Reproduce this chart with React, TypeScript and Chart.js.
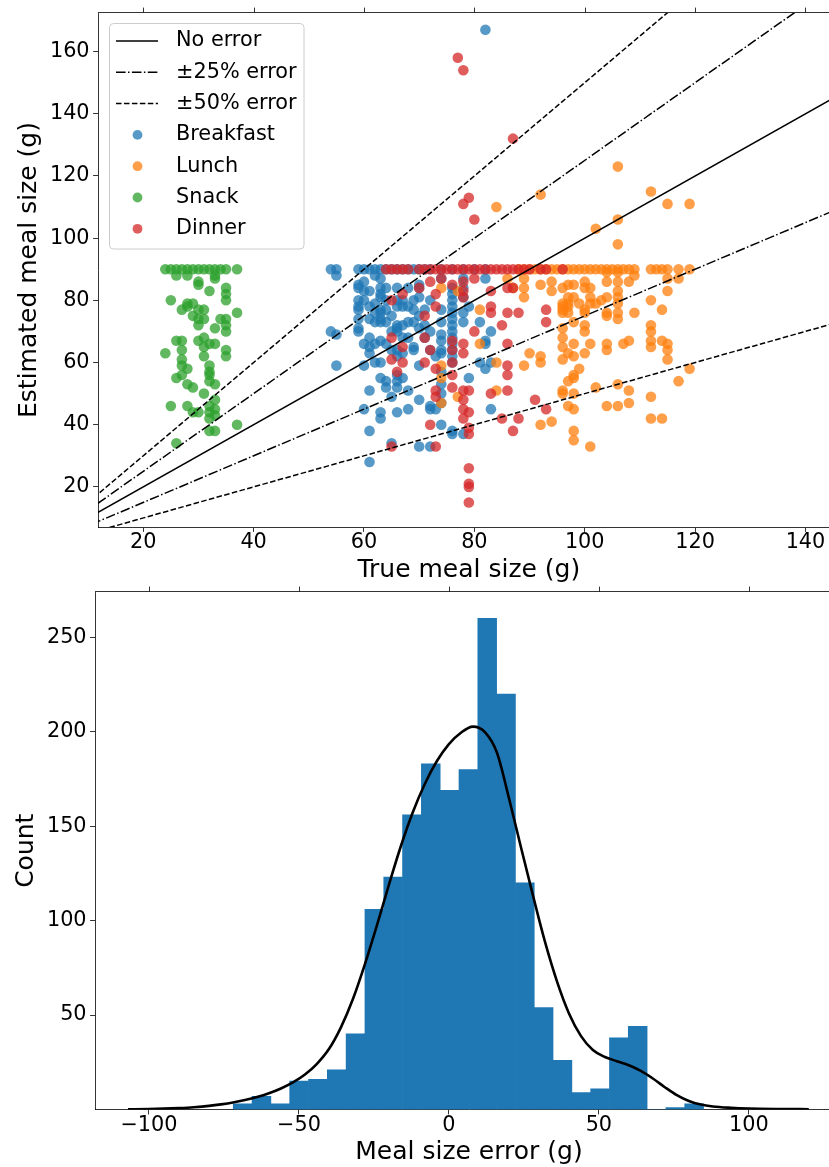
import React, { useEffect, useRef } from 'react';
import { Chart, registerables } from 'chart.js';

Chart.register(...registerables);

const FONT = '"DejaVu Sans", "Liberation Sans", Arial, sans-serif';

// ---------------- Scatter panel data ----------------
const SCATTER_X_TICKS = [20, 40, 60, 80, 100, 120, 140];
const SCATTER_Y_TICKS = [20, 40, 60, 80, 100, 120, 140, 160];
const SCATTER_X_RANGE = [11.8, 146.2];
const SCATTER_Y_RANGE = [7.1, 172.4];

// reference lines: estimate = factor * true size
const REF_X = [0, 200];
const NO_ERROR = [1];
const ERR_25 = [1.25, 0.75];
const ERR_50 = [1.5, 0.5];

// [true meal size, estimated meal size]
const BREAKFAST: [number, number][] = [
  [54, 90], [55, 90], [59, 90], [60, 90], [61, 90], [62, 90], [63, 90], [64, 90], [65, 90], [66, 90], [67, 90],
  [68, 90], [69, 90], [70, 90], [71, 90], [72, 90], [74, 90], [76, 90], [78, 90], [80, 90], [82, 90],
  [55, 88], [54, 70], [55, 69], [55, 59],
  [60, 86], [59, 85], [59, 84], [59, 80], [60, 80], [59, 78], [59, 77], [59, 74], [59, 71], [59, 70], [60, 59], [60, 45],
  [60, 83], [60, 66],
  [61, 83], [61, 78], [61, 74], [61, 68], [61, 65], [61, 63], [61, 51], [61, 38], [61, 28],
  [62, 88], [62, 79], [62, 76], [62, 73], [62, 66], [62, 60],
  [63, 87], [63, 84], [63, 82], [63, 81], [63, 77], [63, 76], [63, 74], [63, 73], [63, 67], [63, 60], [63, 55], [63, 44], [63, 42],
  [64, 84], [64, 80], [64, 77], [64, 73], [64, 66], [64, 54], [64, 52],
  [65, 75], [65, 70], [65, 64], [65, 49], [65, 34],
  [66, 84], [66, 80], [66, 78], [66, 72], [66, 71], [66, 70], [66, 64], [66, 62], [66, 56], [66, 54], [66, 52], [66, 44],
  [67, 80], [67, 78], [67, 72], [67, 68], [67, 63], [67, 55],
  [68, 84], [68, 78], [68, 73], [68, 68], [68, 51], [68, 45],
  [69, 80], [69, 77], [69, 73], [69, 65], [69, 64],
  [70, 85], [70, 84], [70, 81], [70, 75], [70, 71], [70, 59], [70, 48], [70, 33],
  [71, 77], [71, 72], [71, 68],
  [72, 80], [72, 70], [72, 64], [72, 46], [72, 45], [72, 33],
  [73, 62], [73, 45],
  [74, 87], [74, 77], [74, 73], [74, 69], [74, 67], [74, 64], [74, 63], [74, 57], [74, 53], [74, 50], [74, 47], [74, 40],
  [76, 84], [76, 82], [76, 80], [76, 78], [76, 76], [76, 74], [76, 72], [76, 70], [76, 68], [76, 66], [76, 64],
  [76, 62], [76, 60], [76, 38], [76, 37],
  [78, 87], [78, 84], [78, 81], [78, 76], [78, 73], [78, 37],
  [79, 78], [79, 55],
  [81, 73], [81, 60],
  [82, 87], [82, 67], [82, 66], [82, 58], [82, 167],
  [83, 70], [83, 60], [83, 45],
];

const LUNCH: [number, number][] = [
  [88, 90], [89, 90], [90, 90], [91, 90], [92, 90], [93, 90], [94, 90], [95, 90], [96, 90], [97, 90], [98, 90],
  [99, 90], [100, 90], [101, 90], [102, 90], [103, 90], [104, 90], [105, 90], [106, 90], [107, 90], [108, 90],
  [109, 90], [112, 90], [113, 90], [114, 90], [115, 90], [117, 90], [119, 90],
  [106, 123], [112, 115], [115, 111], [119, 111], [106, 106], [102, 103], [106, 98], [92, 114], [84, 110],
  [97, 85], [98, 85], [100, 86], [100, 84], [101, 84], [101, 81], [97, 81], [98, 81], [99, 79], [97, 79], [97, 78],
  [96, 79], [96, 77], [97, 76], [100, 76], [101, 79], [102, 79], [103, 80], [104, 81], [104, 86], [104, 89],
  [106, 89], [106, 86], [106, 83], [106, 81], [106, 79], [106, 76], [106, 74], [104, 76], [104, 75], [108, 86],
  [109, 88], [109, 76], [112, 80], [115, 87], [117, 87], [115, 83], [114, 77], [112, 72], [112, 70], [112, 67],
  [112, 65], [114, 67], [115, 66], [115, 64], [115, 61], [108, 67], [107, 66], [104, 66], [104, 64], [101, 66],
  [100, 70], [100, 72], [98, 66], [97, 63], [98, 62], [100, 63], [96, 61], [119, 58], [117, 54], [112, 49],
  [112, 42], [114, 42], [108, 51], [108, 47], [106, 53], [106, 46], [104, 46], [102, 52], [99, 58], [98, 55],
  [97, 54], [96, 50], [98, 50], [97, 46], [98, 45], [98, 38], [98, 35], [101, 33],
  [89, 87], [89, 81], [92, 85], [94, 86], [94, 83], [96, 84], [96, 78], [96, 76], [96, 71], [96, 65], [98, 73],
  [100, 77], [81, 77], [81, 66], [86, 87], [89, 59], [92, 62], [92, 60], [94, 41], [92, 40], [98, 56],
  [77, 83], [84, 60], [84, 51], [77, 49], [89, 84], [87, 84], [90, 63], [96, 68], [96, 51],
  [74, 84], [74, 59], [74, 55], [74, 47],
];

const SNACK: [number, number][] = [
  [24, 90], [25, 90], [26, 90], [27, 90], [28, 90], [29, 90], [30, 90], [31, 90], [32, 90], [33, 90], [34, 90],
  [35, 90], [37, 90],
  [26, 88], [28, 88], [30, 86], [30, 85], [33, 88], [33, 87], [32, 83], [35, 84], [35, 82], [35, 80], [25, 80],
  [28, 79], [29, 79], [27, 77], [28, 78], [30, 77], [31, 77], [29, 75], [31, 74], [30, 74], [34, 74], [35, 74],
  [37, 76], [30, 72], [33, 71], [35, 72], [35, 70], [26, 67], [27, 67], [30, 67], [31, 68], [32, 66], [33, 66],
  [31, 65], [24, 63], [27, 64], [35, 64], [35, 62], [31, 62], [27, 61], [27, 59], [28, 58], [32, 59], [32, 57],
  [32, 56], [26, 55], [27, 56], [28, 53], [29, 52], [33, 53], [32, 54], [31, 50], [33, 48], [25, 46], [28, 46],
  [29, 44], [30, 44], [32, 46], [33, 45], [32, 44], [33, 43], [32, 42], [32, 38], [33, 38], [37, 40], [26, 34],
];

const DINNER: [number, number][] = [
  [64, 90], [65, 90], [66, 90], [67, 90], [68, 90], [70, 90], [71, 90], [72, 90], [73, 90], [74, 90], [75, 90],
  [76, 90], [77, 90], [78, 90], [79, 90], [80, 90], [81, 90], [82, 90], [83, 90], [84, 90], [85, 90], [86, 90],
  [87, 90], [88, 90], [89, 90], [90, 90], [92, 90], [93, 90], [96, 90],
  [77, 158], [78, 154], [87, 132], [79, 113], [78, 111], [80, 106],
  [65, 80], [67, 82], [70, 84], [71, 75], [72, 86], [73, 82], [73, 78], [74, 87], [65, 68], [67, 65], [65, 61],
  [67, 60], [66, 57], [71, 68], [72, 64], [71, 60], [73, 58], [73, 51], [73, 49], [72, 40], [65, 33], [73, 33],
  [76, 85], [78, 86], [78, 83], [78, 81], [80, 87], [83, 83], [83, 78], [83, 76], [86, 76], [86, 84], [87, 84],
  [88, 76], [85, 72], [93, 77], [93, 73], [80, 70], [76, 67], [76, 64], [78, 66], [78, 63], [76, 60], [86, 66],
  [86, 59], [86, 56], [76, 56], [76, 52], [78, 51], [78, 48], [79, 51], [79, 44], [78, 45], [78, 42], [83, 50],
  [86, 51], [85, 42], [88, 42], [87, 38], [91, 48], [93, 45], [79, 39], [79, 37], [79, 26], [79, 21], [79, 20],
  [79, 15],
];

// ---------------- Histogram panel data ----------------
const HIST_X_TICKS = [-100, -50, 0, 50, 100];
const HIST_Y_TICKS = [50, 100, 150, 200, 250];
const HIST_X_RANGE = [-118, 131.4];
const HIST_Y_RANGE = [0, 274];
const HIST_EDGES = [
  -71.9, -65.63, -59.36, -53.08, -46.81, -40.54, -34.27, -28.0, -21.72, -15.45, -9.18, -2.91, 3.36,
  9.64, 15.91, 22.18, 28.45, 34.72, 41.0, 47.27, 53.54, 59.81, 66.08, 72.36, 78.63, 84.9,
];
const HIST_COUNTS = [3, 7, 3, 15, 16, 21, 40, 106, 123, 156, 183, 169, 180, 260, 220, 120, 54, 26, 9, 11, 38, 44, 0, 1, 3];
const KDE_X = [
  -107, -100, -95, -90, -85, -80, -76, -72, -68, -64, -60, -56, -52, -48, -44, -40, -36, -32, -28, -24, -20, -16,
  -12, -8, -4, 0, 4, 8, 12, 16, 20, 24, 28, 32, 36, 40, 44, 48, 52, 56, 60, 64, 68, 72, 76, 80, 84, 88, 94, 100,
  110, 120,
];
const KDE_Y = [
  0.1, 0.25, 0.45, 0.75, 1.2, 1.9, 2.7, 3.7, 5.0, 6.6, 8.6, 11.1, 14.3, 18.5, 24.2, 32, 43.5, 58.5, 77, 97.5, 119,
  139.5, 157.5, 172.5, 184.5, 193.5, 199.5, 202.7, 199.8, 189, 165, 139, 113.5, 89, 68, 51, 39, 31.5, 27.8, 25.6,
  23.4, 20.4, 16.4, 11.8, 7.6, 4.5, 2.6, 1.6, 0.9, 0.5, 0.25, 0.15,
];

const fmtTick = (v: number) => (v < 0 ? '\u2212' + Math.abs(v) : String(v));

const framePlugin = {
  id: 'frame',
  afterDraw(chart: any) {
    const { ctx, chartArea: a, scales } = chart;
    ctx.save();
    ctx.strokeStyle = '#000';
    ctx.lineWidth = 0.8;
    ctx.beginPath();
    const top = Math.round(a.top) - 0.5;
    ctx.moveTo(a.left, top);
    ctx.lineTo(a.right, top);
    ctx.lineTo(a.right, a.bottom);
    scales.x.ticks.forEach((t: any) => {
      const px = Math.round(scales.x.getPixelForValue(t.value)) + 0.5;
      ctx.moveTo(px, top);
      ctx.lineTo(px, top - 4.9);
    });
    ctx.stroke();
    ctx.restore();
  },
};

const legendPlugin = {
  id: 'boxLegend',
  afterDraw(chart: any) {
    const { ctx } = chart;
    const seen = new Set<string>();
    const items: any[] = [];
    chart.data.datasets.forEach((ds: any) => {
      if (seen.has(ds.label)) return;
      seen.add(ds.label);
      items.push(ds);
    });
    ctx.save();
    const x0 = 109.5, y0 = 23.5, w = 194.5, h = 225.5, r = 4;
    ctx.beginPath();
    ctx.moveTo(x0 + r, y0);
    ctx.lineTo(x0 + w - r, y0);
    ctx.arcTo(x0 + w, y0, x0 + w, y0 + r, r);
    ctx.lineTo(x0 + w, y0 + h - r);
    ctx.arcTo(x0 + w, y0 + h, x0 + w - r, y0 + h, r);
    ctx.lineTo(x0 + r, y0 + h);
    ctx.arcTo(x0, y0 + h, x0, y0 + h - r, r);
    ctx.lineTo(x0, y0 + r);
    ctx.arcTo(x0, y0, x0 + r, y0, r);
    ctx.closePath();
    ctx.fillStyle = 'rgba(255,255,255,0.8)';
    ctx.fill();
    ctx.strokeStyle = '#cccccc';
    ctx.lineWidth = 1;
    ctx.stroke();
    items.forEach((ds, i) => {
      const cy = 41 + i * 31.3;
      if (ds.showLine) {
        ctx.strokeStyle = ds.borderColor;
        ctx.lineWidth = ds.borderWidth;
        ctx.setLineDash(ds.borderDash || []);
        ctx.beginPath();
        ctx.moveTo(116, cy);
        ctx.lineTo(158, cy);
        ctx.stroke();
        ctx.setLineDash([]);
      } else {
        ctx.fillStyle = ds.backgroundColor;
        ctx.beginPath();
        ctx.arc(137.5, cy, 4.9, 0, Math.PI * 2);
        ctx.fill();
      }
      ctx.fillStyle = '#000';
      ctx.font = `20.8px ${FONT}`;
      ctx.textBaseline = 'middle';
      ctx.textAlign = 'left';
      ctx.fillText(ds.label, 176, cy);
    });
    ctx.restore();
  },
};

function axisCommon(ticksArr: number[], fixedSize: number, horizontal: boolean, title: string, titlePad: any, tickPad: number) {
  return {
    type: 'linear',
    offset: false,
    afterBuildTicks: (s: any) => {
      s.ticks = ticksArr.map((v) => ({ value: v }));
    },
    afterFit: (s: any) => {
      if (horizontal) {
        s.height = fixedSize;
        s.paddingLeft = 0;
        s.paddingRight = 0;
      } else {
        s.width = fixedSize;
        s.paddingTop = 0;
        s.paddingBottom = 0;
      }
    },
    grid: {
      display: true,
      drawOnChartArea: false,
      drawTicks: true,
      tickLength: 4.9,
      tickWidth: 0.8,
      tickColor: '#000',
      offset: false,
    },
    border: { display: true, color: '#000', width: 0.8 },
    ticks: {
      color: '#000',
      font: { family: FONT, size: 20.8, lineHeight: 1 },
      padding: tickPad,
      maxRotation: 0,
      minRotation: 0,
      autoSkip: false,
      callback: (v: any) => fmtTick(Number(v)),
    },
    title: {
      display: true,
      text: title,
      color: '#000',
      font: { family: FONT, size: 25, lineHeight: 1.2 },
      padding: titlePad,
    },
  };
}

const ptColor = (r: number, g: number, b: number) => `rgba(${r},${g},${b},0.75)`;

function ScatterPanel() {
  const ref = useRef<HTMLCanvasElement>(null);
  useEffect(() => {
    if (!ref.current) return;
    const refLine = (label: string, f: number, dash: number[]) => ({
      label,
      data: REF_X.map((x) => ({ x, y: x * f })),
      showLine: true,
      borderColor: '#000',
      backgroundColor: '#000',
      borderWidth: 1.5,
      borderDash: dash,
      pointRadius: 0,
      order: 0,
    });
    const pts = (label: string, arr: [number, number][], color: string, order: number) => ({
      label,
      data: arr.map(([x, y]) => ({ x, y })),
      showLine: false,
      backgroundColor: color,
      borderWidth: 0,
      pointRadius: 5.3,
      pointHoverRadius: 5.3,
      order,
    });
    const datasets: any[] = [
      ...NO_ERROR.map((f) => refLine('No error', f, [])),
      ...ERR_25.map((f) => refLine('\u00b125% error', f, [9.6, 2.4, 1.5, 2.4])),
      ...ERR_50.map((f) => refLine('\u00b150% error', f, [5.55, 2.4])),
      pts('Breakfast', BREAKFAST, ptColor(31, 119, 180), 4),
      pts('Lunch', LUNCH, ptColor(255, 127, 14), 3),
      pts('Snack', SNACK, ptColor(44, 160, 44), 2),
      pts('Dinner', DINNER, ptColor(214, 39, 40), 1),
    ];
    const chart = new Chart(ref.current, {
      type: 'scatter',
      data: { datasets },
      options: {
        animation: false,
        responsive: false,
        maintainAspectRatio: false,
        events: [],
        layout: { padding: { top: 13, left: 0, right: 5, bottom: 0 } },
        plugins: { legend: { display: false }, tooltip: { enabled: false } },
        scales: {
          x: {
            ...axisCommon(SCATTER_X_TICKS, 63, true, 'True meal size (g)', { top: 0, bottom: 5 }, 0.5),
            min: SCATTER_X_RANGE[0],
            max: SCATTER_X_RANGE[1],
          },
          y: {
            ...axisCommon(SCATTER_Y_TICKS, 98, false, 'Estimated meal size (g)', { top: 14.8, bottom: 0 }, 3.5),
            min: SCATTER_Y_RANGE[0],
            max: SCATTER_Y_RANGE[1],
          },
        },
      } as any,
      plugins: [framePlugin, legendPlugin],
    });
    return () => chart.destroy();
  }, []);
  return <canvas ref={ref} width={845} height={590} style={{ position: 'absolute', left: 0, top: 0, display: 'block' }} />;
}

function HistPanel() {
  const ref = useRef<HTMLCanvasElement>(null);
  useEffect(() => {
    if (!ref.current) return;
    const bars = HIST_COUNTS.map((c, i) => ({ x: (HIST_EDGES[i] + HIST_EDGES[i + 1]) / 2, y: c }));
    const kde = KDE_X.map((x, i) => ({ x, y: KDE_Y[i] }));
    const chart = new Chart(ref.current, {
      type: 'bar',
      data: {
        datasets: [
          {
            type: 'line',
            label: 'KDE',
            data: kde,
            borderColor: '#000',
            borderWidth: 2.6,
            pointRadius: 0,
            cubicInterpolationMode: 'monotone',
            fill: false,
            order: 0,
          },
          {
            type: 'bar',
            label: 'Count',
            data: bars,
            backgroundColor: '#1f77b4',
            borderWidth: 0,
            barPercentage: 1,
            categoryPercentage: 1,
            order: 1,
          },
        ],
      } as any,
      options: {
        animation: false,
        responsive: false,
        maintainAspectRatio: false,
        events: [],
        layout: { padding: { top: 7, left: 0, right: 5, bottom: 0 } },
        plugins: { legend: { display: false }, tooltip: { enabled: false } },
        scales: {
          x: {
            ...axisCommon(HIST_X_TICKS, 57.5, true, 'Meal size error (g)', { top: 0, bottom: 0 }, 0.5),
            min: HIST_X_RANGE[0],
            max: HIST_X_RANGE[1],
          },
          y: {
            ...axisCommon(HIST_Y_TICKS, 95, false, 'Count', { top: 11.3, bottom: 0 }, 3.5),
            min: HIST_Y_RANGE[0],
            max: HIST_Y_RANGE[1],
          },
        },
      } as any,
      plugins: [framePlugin],
    });
    return () => chart.destroy();
  }, []);
  return <canvas ref={ref} width={848} height={582} style={{ position: 'absolute', left: 0, top: 585, display: 'block' }} />;
}

export default function App() {
  return (
    <div
      style={{
        position: 'absolute',
        left: 0,
        top: 0,
        width: 829,
        height: 1167,
        overflow: 'hidden',
        background: '#fff',
      }}
    >
      <ScatterPanel />
      <HistPanel />
    </div>
  );
}
